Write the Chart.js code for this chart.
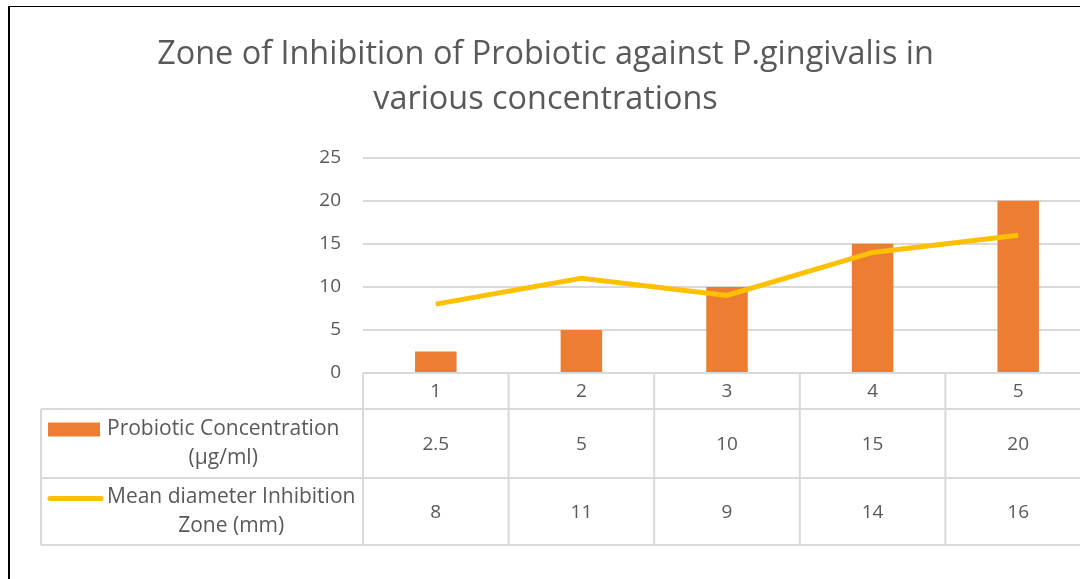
<!DOCTYPE html>
<html>
<head>
<meta charset="utf-8">
<script src="https://cdn.jsdelivr.net/npm/chart.js@4"></script>
<style>
  html, body { margin: 0; padding: 0; background: #fff; overflow: hidden; }
  #frame {
    position: absolute; left: 8px; top: 6px;
    width: 1100px; height: 620px;
    border-left: 2px solid #000; border-top: 1px solid #000;
    overflow: hidden;
  }
  #wrap { position: absolute; left: -10px; top: -7px; width: 1110px; height: 579px; }
</style>
</head>
<body>
<div id="frame"><div id="wrap"><canvas id="chart"></canvas></div></div>
<script>
// data
const categories = ["1", "2", "3", "4", "5"];
const concentration = [2.5, 5, 10, 15, 20];
const inhibitionZone = [8, 11, 9, 14, 16];
const yTicks = [0, 5, 10, 15, 20, 25];
const seriesNames = [["Probiotic Concentration", "(µg/ml)"], ["Mean diameter Inhibition", "Zone (mm)"]];

const ORANGE = "#ED7D31";
const GOLD = "#FFC000";
const TEXT = "#595959";
const GRID = "#D9D9D9";
const FONT = "'Open Sans', 'Liberation Sans', sans-serif";

// Table geometry (rows under plot area)
const tableLeft = 41;
const rowTops = [373, 409, 478, 545];

const dataTablePlugin = {
  id: "dataTable",
  afterDraw(chart) {
    const ctx = chart.ctx;
    const x = chart.scales.x;
    const area = chart.chartArea;
    const step = x.getPixelForValue(1) - x.getPixelForValue(0);
    const left = area.left;
    const right = area.right;

    ctx.save();
    ctx.strokeStyle = GRID;
    ctx.lineWidth = 2;
    ctx.beginPath();
    // horizontal lines
    ctx.moveTo(left, rowTops[0]); ctx.lineTo(right, rowTops[0]);
    for (let i = 1; i < rowTops.length; i++) {
      ctx.moveTo(tableLeft, rowTops[i]); ctx.lineTo(right, rowTops[i]);
    }
    // vertical lines
    ctx.moveTo(tableLeft, rowTops[1]); ctx.lineTo(tableLeft, rowTops[3]);
    for (let i = 0; i <= categories.length; i++) {
      const px = x.getPixelForValue(i) - step / 2;
      ctx.moveTo(px, rowTops[0]); ctx.lineTo(px, rowTops[3]);
    }
    ctx.stroke();

    // values
    ctx.fillStyle = TEXT;
    ctx.font = "19px " + FONT;
    ctx.textAlign = "center";
    ctx.textBaseline = "middle";
    const rows = [categories, concentration, inhibitionZone];
    rows.forEach((vals, r) => {
      const cy = (rowTops[r] + rowTops[r + 1]) / 2 + 1;
      vals.forEach((v, i) => {
        ctx.fillText(String(v), x.getPixelForValue(i), cy);
      });
    });

    // series labels with legend keys
    ctx.font = "21px " + FONT;
    const textLeft = 107;
    seriesNames.forEach((lines, r) => {
      const cy = (rowTops[r + 1] + rowTops[r + 2]) / 2;
      const y1 = cy - 14, y2 = cy + 15;
      const w1 = ctx.measureText(lines[0]).width;
      ctx.textAlign = "left";
      ctx.fillText(lines[0], textLeft, y1);
      ctx.textAlign = "center";
      ctx.fillText(lines[1], textLeft + w1 / 2, y2);
      if (r === 0) {
        ctx.fillStyle = ORANGE;
        ctx.fillRect(48, y1 - 7, 52, 14);
      } else {
        ctx.strokeStyle = GOLD;
        ctx.lineWidth = 5;
        ctx.lineCap = "round";
        ctx.beginPath();
        ctx.moveTo(50, y1 + 1);
        ctx.lineTo(101, y1 + 1);
        ctx.stroke();
      }
      ctx.fillStyle = TEXT;
    });
    ctx.restore();
  }
};

new Chart(document.getElementById("chart"), {
  data: {
    labels: categories,
    datasets: [
      {
        type: "line",
        label: seriesNames[1].join(" "),
        data: inhibitionZone,
        borderColor: GOLD,
        borderWidth: 5,
        pointRadius: 0,
        tension: 0,
        order: 0
      },
      {
        type: "bar",
        label: seriesNames[0].join(" "),
        data: concentration,
        backgroundColor: ORANGE,
        barPercentage: 0.57,
        categoryPercentage: 0.5,
        order: 1
      }
    ]
  },
  options: {
    responsive: true,
    maintainAspectRatio: false,
    animation: false,
    layout: { padding: { left: 0, top: 0, right: 19, bottom: 206 } },
    plugins: {
      legend: { display: false },
      tooltip: { enabled: false },
      title: {
        display: true,
        text: ["Zone of Inhibition of Probiotic against P.gingivalis in", "various concentrations"],
        color: TEXT,
        font: { family: FONT, size: 32.4, weight: "normal", lineHeight: 1.4 },
        padding: { top: 32, bottom: 35 }
      }
    },
    scales: {
      x: {
        display: false
      },
      y: {
        min: 0,
        max: 25,
        afterBuildTicks(scale) { scale.ticks = yTicks.map(v => ({ value: v })); },
        afterFit(scale) { scale.width = 363; },
        ticks: { color: TEXT, font: { family: FONT, size: 19 }, padding: 22 },
        grid: { color: GRID, lineWidth: 2, drawTicks: false },
        border: { display: false }
      }
    }
  },
  plugins: [dataTablePlugin]
});
</script>
</body>
</html>
